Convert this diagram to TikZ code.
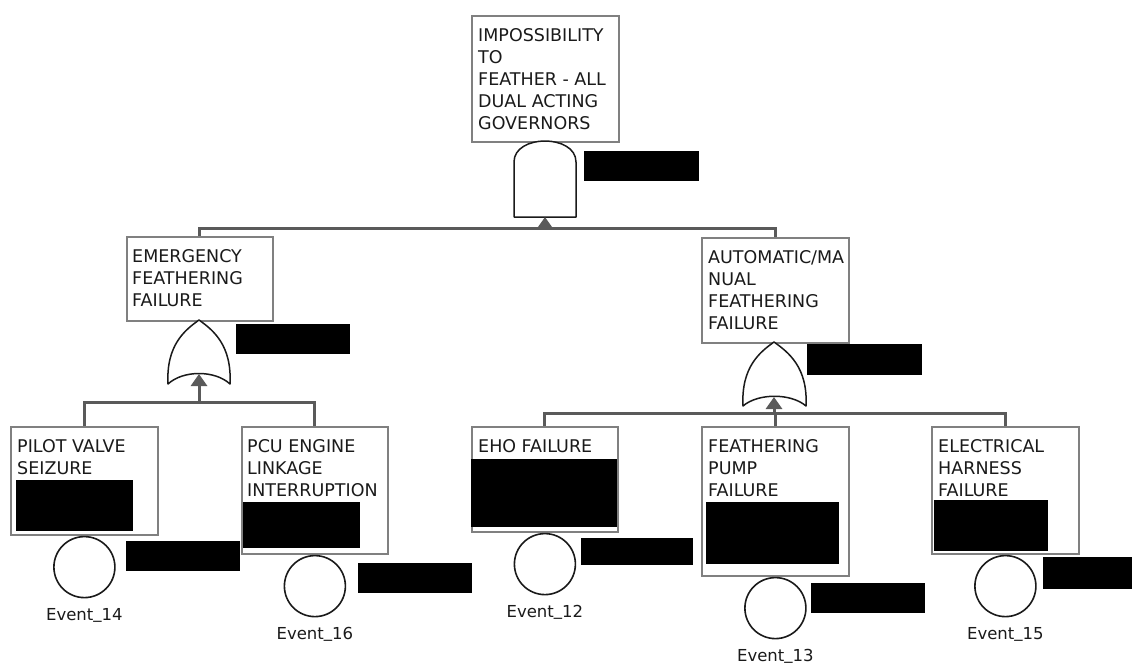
\documentclass[tikz,border=0pt]{standalone}
\usepackage{fontspec}
\setmainfont{DejaVu Sans}
\usetikzlibrary{arrows.meta,calc}
\definecolor{linkgray}{HTML}{5A5A5A}
\definecolor{boxgray}{HTML}{808080}
\definecolor{ink}{HTML}{1A1A1A}
% underscore set a little higher, as in the event names
\newcommand{\evus}{\raisebox{1.8pt}{\_}}
\begin{document}
\begin{tikzpicture}[x=1pt,y=-1pt,
  box/.style={rectangle, draw=boxgray, line width=1.8pt, fill=white, inner sep=0pt, anchor=north west},
  boxtext/.style={anchor=base west, inner sep=0pt, text=ink, font=\fontsize{17.5}{22}\selectfont},
  evt/.style={circle, draw=ink, line width=1.6pt, fill=white, minimum size=61pt, inner sep=0pt, anchor=north},
  evlab/.style={anchor=base, inner sep=0pt, text=ink, font=\fontsize{16.5}{20}\selectfont},
  gateline/.style={draw=ink, line width=1.5pt, fill=white, line join=round},
  link/.style={draw=linkgray, line width=3pt},
  uparrow/.style={link, -{Triangle[length=12pt,width=16pt]}},
  redact/.style={fill=black}
]
\useasboundingbox (0,0) rectangle (1132,664);
\fill[white] (0,0) rectangle (1132,664);

% ---- event boxes ----
\node[box, minimum width=147pt, minimum height=126pt] (top)   at (471,15)  {};
\node[box, minimum width=146pt, minimum height=84pt]  (emer)  at (126,236) {};
\node[box, minimum width=147pt, minimum height=105pt] (auto)  at (701,237) {};
\node[box, minimum width=147pt, minimum height=108pt] (pilot) at (10,426)  {};
\node[box, minimum width=146pt, minimum height=127pt] (pcu)   at (241,426) {};
\node[box, minimum width=146pt, minimum height=105pt] (eho)   at (471,426) {};
\node[box, minimum width=147pt, minimum height=149pt] (pump)  at (701,426) {};
\node[box, minimum width=147pt, minimum height=127pt] (elec)  at (931,426) {};

% ---- box texts ----
\node[boxtext] (top-t)   at ($(top.north west)+(7,26)$)   {\parbox[t]{140pt}{IMPOSSIBILITY\\TO\\FEATHER - ALL\\DUAL ACTING\\GOVERNORS}};
\node[boxtext] (emer-t)  at ($(emer.north west)+(6,26)$)  {\parbox[t]{140pt}{EMERGENCY\\FEATHERING\\FAILURE}};
\node[boxtext] (auto-t)  at ($(auto.north west)+(7,26)$)  {\parbox[t]{140pt}{AUTOMATIC/MA\\NUAL\\FEATHERING\\FAILURE}};
\node[boxtext] (pilot-t) at ($(pilot.north west)+(7,26)$) {\parbox[t]{140pt}{PILOT VALVE\\SEIZURE}};
\node[boxtext] (pcu-t)   at ($(pcu.north west)+(6,26)$)   {\parbox[t]{140pt}{PCU ENGINE\\LINKAGE\\INTERRUPTION}};
\node[boxtext] (eho-t)   at ($(eho.north west)+(7,26)$)   {\parbox[t]{140pt}{EHO FAILURE}};
\node[boxtext] (pump-t)  at ($(pump.north west)+(7,26)$)  {\parbox[t]{140pt}{FEATHERING\\PUMP\\FAILURE}};
\node[boxtext] (elec-t)  at ($(elec.north west)+(7,26)$)  {\parbox[t]{140pt}{ELECTRICAL\\HARNESS\\FAILURE}};

% ---- basic events ----
\node[evt] (e14) at (pilot.south) {};
\node[evt] (e16) at (pcu.south)   {};
\node[evt] (e12) at (eho.south)   {};
\node[evt] (e13) at (pump.south)  {};
\node[evt] (e15) at (elec.south)  {};
\node[evlab] (e14-l) at ($(e14.south)+(0,22)$) {Event\evus14};
\node[evlab] (e16-l) at ($(e16.south)+(0,22)$) {Event\evus16};
\node[evlab] (e12-l) at ($(e12.south)+(0,22)$) {Event\evus12};
\node[evlab] (e13-l) at ($(e13.south)+(0,22)$) {Event\evus13};
\node[evlab] (e15-l) at ($(e15.south)+(0,22)$) {Event\evus15};

% ---- gates ----
% AND gate under the top event
\path[gateline] (514,217) -- (514,162) .. controls (514,134) and (576,134) .. (576,162) -- (576,217) -- cycle;
% OR gate under EMERGENCY FEATHERING FAILURE
\path[gateline] (168,384) .. controls (166,345) and (185,330) .. (199,320)
  .. controls (213,330) and (232,345) .. (230,384)
  .. controls (215,370) and (183,370) .. (168,384) -- cycle;
% OR gate under AUTOMATIC/MANUAL FEATHERING FAILURE
\path[gateline] (743,406) .. controls (741,367) and (760,352) .. (774,342)
  .. controls (788,352) and (808,367) .. (806,406)
  .. controls (791,393) and (758,393) .. (743,406) -- cycle;

\coordinate (gA-in)  at (545,217);
\coordinate (gA-bus) at (545,228);
\coordinate (gL-in)  at (199,374);
\coordinate (gL-bus) at (199,402);
\coordinate (gR-in)  at (774,397);
\coordinate (gR-bus) at (774,413);

% ---- connectors ----
\draw[link] (emer.north) |- (gA-bus);
\draw[link] (auto.north) |- (gA-bus);
\draw[uparrow] (gA-bus) -- (gA-in);

\draw[link] (pilot.north) |- (gL-bus);
\draw[link] (pcu.north)   |- (gL-bus);
\draw[uparrow] (gL-bus) -- (gL-in);

\draw[link] (eho.north)  |- (gR-bus);
\draw[link] (pump.north) |- (gR-bus);
\draw[link] (elec.north) |- (gR-bus);
\draw[uparrow] (gR-bus) -- (gR-in);

% ---- blacked-out labels ----
\fill[redact] (584,151) rectangle (699,181);
\fill[redact] (236,324) rectangle (350,354);
\fill[redact] (807,344) rectangle (922,375);
\fill[redact] (16,480)  rectangle (133,531);
\fill[redact] (126,541) rectangle (240,571);
\fill[redact] (243,502) rectangle (360,548);
\fill[redact] (358,563) rectangle (472,593);
\fill[redact] (471,459) rectangle (617,527);
\fill[redact] (581,538) rectangle (693,565);
\fill[redact] (706,502) rectangle (839,564);
\fill[redact] (811,583) rectangle (925,613);
\fill[redact] (934,500) rectangle (1048,551);
\fill[redact] (1043,557) rectangle (1132,589);
\end{tikzpicture}
\end{document}
